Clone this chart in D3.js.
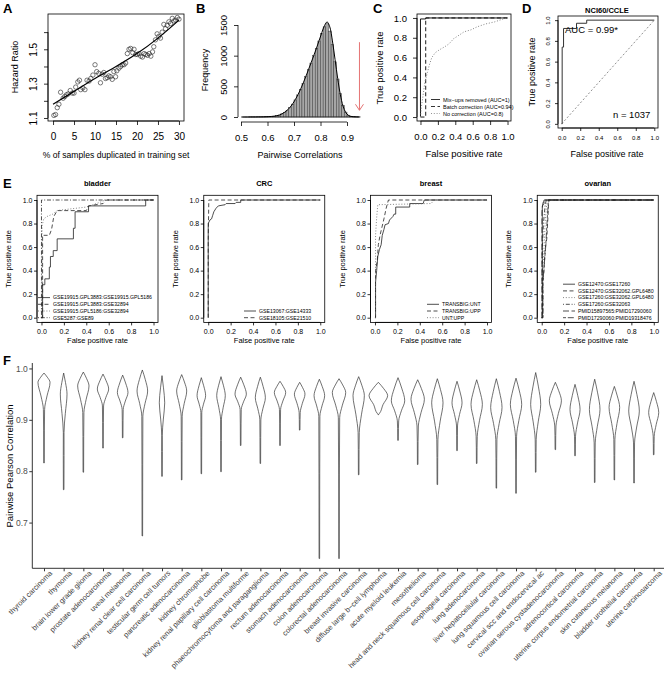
<!DOCTYPE html>
<html><head><meta charset="utf-8">
<script src="https://cdn.jsdelivr.net/npm/d3@7/dist/d3.min.js"></script>
<style>html,body{margin:0;padding:0;background:#fff}svg{display:block}</style>
</head><body>
<svg id="chart" width="667" height="677"></svg>
<script>
// ================= DATA =================
// Panel A
const dupPercent = [0.2,0.6,1.0,1.4,1.8,2.4,2.8,3.2,3.6,4.1,4.6,5.0,5.4,5.9,6.3,6.6,7.1,7.6,8.1,8.6,9.0,9.5,10.0,10.4,10.9,11.3,11.7,12.1,12.5,12.9,13.3,13.7,14.1,14.5,14.9,15.2,15.7,16.1,16.5,16.9,17.3,17.7,18.1,18.5,19.0,19.3,19.7,20.1,20.5,20.9,21.3,21.7,22.1,22.5,22.9,23.3,23.7,24.0,24.4,24.8,25.2,25.6,26.0,26.4,26.8,27.2,27.6,28.0,28.4,28.8,29.2,29.6,30.0];
const hazardRatio = [1.115,1.12,1.16,1.18,1.25,1.215,1.225,1.235,1.24,1.26,1.245,1.245,1.28,1.31,1.32,1.265,1.275,1.265,1.32,1.315,1.33,1.35,1.41,1.37,1.36,1.305,1.355,1.365,1.33,1.335,1.345,1.34,1.325,1.37,1.34,1.375,1.39,1.40,1.41,1.41,1.42,1.475,1.50,1.505,1.48,1.50,1.47,1.47,1.475,1.46,1.455,1.475,1.47,1.465,1.475,1.46,1.485,1.515,1.555,1.59,1.575,1.565,1.60,1.645,1.62,1.64,1.66,1.65,1.68,1.665,1.67,1.685,1.675];
const fitX = [0,5,10,15,20,25,30];
const fitHR = [1.18,1.255,1.33,1.40,1.475,1.565,1.67];
const aXTicks = [0,5,10,15,20,25,30];
const aYTicks = [1.1,1.2,1.3,1.4,1.5,1.6];
const aYLabelled = [1.1,1.3,1.5];

// Panel B
const corrBinStart = [0.50,0.51,0.52,0.53,0.54,0.55,0.56,0.57,0.58,0.59,0.60,0.61,0.62,0.63,0.64,0.65,0.66,0.67,0.68,0.69,0.70,0.71,0.72,0.73,0.74,0.75,0.76,0.77,0.78,0.79,0.80,0.81,0.82,0.83,0.84,0.85,0.86,0.87,0.88,0.89,0.90,0.91,0.92,0.93,0.94];
const corrFreq = [0,0,0,1,1,1,2,2,3,4,5,8,12,20,30,50,75,110,155,210,280,360,450,550,660,770,880,1000,1120,1240,1360,1470,1520,1400,1180,900,620,380,190,80,30,12,6,3,2];
const densityFreq = [0,0,0,1,1,1,2,2,3,4,6,9,14,21,33,52,78,112,158,214,284,364,454,556,664,776,890,1006,1124,1250,1375,1490,1550,1470,1240,935,625,362,180,75,28,10,4,2,1];
const bXTicks = [0.5,0.6,0.7,0.8,0.9];
const bYTicks = [0,500,1000,1500];
const arrowCorr = 0.947, arrowTop = 1220, arrowBottom = 110;

// Panel C
const cNames = ["Mix\u2212ups removed (AUC=1)","Batch correction (AUC=0.94)","No correction (AUC=0.8)"];
const cMixups = [[0,0],[0,0.99],[0.06,0.99],[0.06,1],[1,1]];
const cBatch = [[0,0],[0.06,0],[0.06,1],[1,1]];
const cNoCorr = [[0,0],[0.01,0.1],[0.03,0.22],[0.05,0.35],[0.08,0.45],[0.1,0.52],[0.13,0.6],[0.17,0.65],[0.22,0.68],[0.28,0.71],[0.33,0.74],[0.38,0.79],[0.45,0.83],[0.5,0.86],[0.58,0.88],[0.65,0.91],[0.75,0.94],[0.85,0.96],[0.95,0.99],[1,1]];
const rocTicks = [0,0.2,0.4,0.6,0.8,1];

// Panel D
const dRoc = [[0,0],[0.005,0],[0.005,0.74],[0.02,0.74],[0.02,0.92],[0.16,0.92],[0.16,0.97],[0.27,0.97],[0.27,1],[1,1]];
const dAUC = "AUC = 0.99*", dN = "n = 1037";

// Panel E
const eTitles = ["bladder","CRC","breast","ovarian"];
const bladderNames = ["GSE19915.GPL3883:GSE19915.GPL5186","GSE19915.GPL3883:GSE32894","GSE19915.GPL5186:GSE32894","GSE5287:GSE89"];
const bladderRoc = [
 [[0,0],[0.01,0],[0.01,0.28],[0.03,0.28],[0.03,0.33],[0.07,0.33],[0.07,0.43],[0.08,0.43],[0.08,0.52],[0.105,0.52],[0.105,0.57],[0.14,0.57],[0.14,0.67],[0.285,0.67],[0.285,0.76],[0.30,0.76],[0.30,0.90],[0.42,0.90],[0.42,0.95],[0.93,0.95],[0.93,1],[1,1]],
 [[0,0],[0.01,0],[0.01,0.70],[0.07,0.70],[0.09,0.75],[0.11,0.86],[0.14,0.91],[0.40,0.91],[0.42,0.95],[0.55,0.97],[0.58,1],[1,1]],
 [[0,0],[0.005,0],[0.005,0.78],[0.02,0.84],[0.05,0.86],[0.1,0.88],[0.14,0.91],[0.22,0.92],[0.40,0.94],[0.52,0.98],[0.57,1],[1,1]],
 [[0,0],[0,1],[1,1]]
];
const crcNames = ["GSE13067:GSE14333","GSE18105:GSE21510"];
const crcRoc = [
 [[0,0],[0,0.80],[0.015,0.83],[0.03,0.84],[0.04,0.87],[0.05,0.90],[0.07,0.93],[0.09,0.95],[0.15,0.96],[0.16,0.97],[0.24,0.97],[0.25,0.98],[0.29,0.98],[0.29,1],[1,1]],
 [[0,0],[0,0.65],[0.005,1],[1,1]]
];
const breastNames = ["TRANSBIG:UNT","TRANSBIG:UPP","UNT:UPP"];
const breastRoc = [
 [[0,0],[0.005,0],[0.005,0.30],[0.015,0.40],[0.025,0.52],[0.04,0.58],[0.055,0.62],[0.065,0.70],[0.08,0.75],[0.09,0.79],[0.12,0.80],[0.13,0.83],[0.16,0.86],[0.17,0.88],[0.185,0.88],[0.185,0.94],[0.31,0.94],[0.31,0.97],[0.43,0.97],[0.44,1],[1,1]],
 [[0,0],[0.005,0],[0.005,0.40],[0.02,0.48],[0.03,0.62],[0.045,0.70],[0.06,0.76],[0.08,0.84],[0.10,0.93],[0.12,1],[1,1]],
 [[0,0],[0.005,0],[0.005,0.70],[0.015,0.85],[0.025,0.96],[0.5,0.97],[0.53,1],[1,1]]
];
const ovarianNames = ["GSE12470:GSE17260","GSE12470:GSE32062.GPL6480","GSE17260:GSE32062.GPL6480","GSE17260:GSE32063","PMID15897565:PMID17290060","PMID17290060:PMID19318476"];
const ovarianRoc = [
 [[0,0],[0.005,0],[0.005,0.95],[0.02,0.97],[0.02,1],[1,1]],
 [[0,0],[0.01,0],[0.01,0.30],[0.02,0.40],[0.03,0.58],[0.045,0.67],[0.055,0.85],[0.06,0.95],[0.065,1],[1,1]],
 [[0,0],[0.01,0],[0.01,0.42],[0.02,0.58],[0.03,0.80],[0.04,0.92],[0.05,1],[1,1]],
 [[0,0],[0.005,0],[0.005,0.58],[0.015,0.80],[0.03,0.95],[0.04,1],[1,1]],
 [[0,0],[0.002,0],[0.002,0.90],[0.01,0.97],[0.02,1],[1,1]],
 [[0,0],[0.01,0],[0.01,0.29],[0.02,0.42],[0.035,0.6],[0.05,0.85],[0.06,1],[1,1]]
];

// Panel F
const cancerTypes = ["thyroid carcinoma","thymoma","brain lower grade glioma","prostate adenocarcinoma","uveal melanoma","kidney renal clear cell carcinoma","testicular germ cell tumors","pancreatic adenocarcinoma","kidney chromophobe","kidney renal papillary cell carcinoma","glioblastoma multiforme","phaeochromocytoma and paraganglioma","rectum adenocarcinoma","stomach adenocarcinoma","colon adenocarcinoma","colorectal adenocarcinoma","breast invasive carcinoma","diffuse large b\u2212cell lymphoma","acute myeloid leukemia","mesothelioma","head and neck squamous cell carcinoma","esophageal carcinoma","lung adenocarcinoma","liver hepatocellular carcinoma","lung squamous cell carcinoma","cervical scc and endocervical ac","ovarian serous cystadenocarcinoma","adrenocortical carcinoma","uterine corpus endometrial carcinoma","skin cutaneous melanoma","bladder urothelial carcinoma","uterine carcinosarcoma"];
const violinMax  = [0.991,0.991,0.993,0.989,0.987,0.997,0.986,0.988,0.982,0.984,0.983,0.983,0.975,0.973,0.979,0.980,0.984,0.973,0.982,0.978,0.980,0.975,0.978,0.980,0.981,0.992,0.973,0.969,0.979,0.965,0.975,0.953];
const violinMode = [0.973,0.950,0.966,0.960,0.953,0.956,0.933,0.956,0.947,0.947,0.950,0.943,0.953,0.950,0.947,0.953,0.947,0.947,0.937,0.940,0.933,0.933,0.930,0.924,0.930,0.930,0.937,0.920,0.920,0.924,0.917,0.914];
const violinWidth= [0.65,0.36,0.61,0.61,0.57,0.57,0.29,0.54,0.46,0.46,0.61,0.54,0.61,0.57,0.57,0.72,0.61,1.00,0.72,0.72,0.61,0.54,0.61,0.61,0.61,0.54,0.65,0.54,0.57,0.57,0.57,0.54];
const violinNeck = [0.920,0.875,0.914,0.927,0.920,0.907,0.870,0.907,0.914,0.900,0.920,0.900,0.920,0.914,0.907,0.904,0.875,0.912,0.898,0.888,0.862,0.888,0.868,0.862,0.868,0.862,0.888,0.868,0.855,0.862,0.855,0.868];
const violinMin  = [0.816,0.764,0.798,0.845,0.865,0.674,0.790,0.783,0.795,0.799,0.850,0.815,0.850,0.880,0.630,0.630,0.793,0.910,0.860,0.813,0.774,0.840,0.815,0.767,0.757,0.798,0.842,0.830,0.778,0.783,0.777,0.832];
const fYTicks = [0.7,0.8,0.9,1.0];

// ================= DRAWING =================
const FF = '"Liberation Sans", Arial, Helvetica, sans-serif';
const svg = d3.select("#chart").attr("font-family", FF);

function txt(x, y, s, size, o = {}) {
  const t = svg.append("text").attr("x", x).attr("y", y).attr("font-size", size)
    .attr("text-anchor", o.anchor || "middle").attr("fill", o.fill || "#000").text(s);
  if (o.bold) t.attr("font-weight", "bold");
  if (o.rotate) t.attr("transform", `rotate(${o.rotate},${x},${y})`);
  if (o.dy) t.attr("dy", o.dy);
  return t;
}
function box(x0, y0, x1, y1, sw = 0.8) {
  svg.append("rect").attr("x", x0).attr("y", y0).attr("width", x1 - x0).attr("height", y1 - y0)
    .attr("fill", "none").attr("stroke", "#000").attr("stroke-width", sw);
}
function axisBottom(scale, ticks, y, fs, fmt, tick, pad, labelled, lineCol = "#000") {
  const g = svg.append("g").attr("transform", `translate(0,${y})`)
    .call(d3.axisBottom(scale).tickValues(ticks).tickSize(tick).tickPadding(pad).tickFormat(fmt));
  g.select(".domain").remove();
  g.append("line").attr("x1", scale(ticks[0])).attr("x2", scale(ticks[ticks.length - 1]))
    .attr("stroke", lineCol).attr("stroke-width", 0.8);
  g.attr("font-size", fs).attr("font-family", FF);
  g.selectAll(".tick line").attr("stroke", lineCol).attr("stroke-width", 0.8);
  g.selectAll(".tick text").attr("fill", "#000");
  if (labelled) g.selectAll(".tick text").filter(d => !labelled.includes(d)).remove();
  return g;
}
function axisLeft(scale, ticks, x, fs, fmt, tick, pad, rotated, labelled, lineCol = "#000") {
  const g = svg.append("g").attr("transform", `translate(${x},0)`)
    .call(d3.axisLeft(scale).tickValues(ticks).tickSize(tick).tickPadding(pad).tickFormat(fmt));
  g.select(".domain").remove();
  g.append("line").attr("y1", scale(ticks[0])).attr("y2", scale(ticks[ticks.length - 1]))
    .attr("stroke", lineCol).attr("stroke-width", 0.8);
  g.attr("font-size", fs).attr("font-family", FF);
  g.selectAll(".tick line").attr("stroke", lineCol).attr("stroke-width", 0.8);
  g.selectAll(".tick text").attr("fill", "#000");
  if (rotated) {
    g.selectAll(".tick text").attr("x", 0).attr("y", -(tick + pad)).attr("dy", 0)
      .attr("text-anchor", "middle").attr("transform", "rotate(-90)");
  }
  if (labelled) g.selectAll(".tick text").filter(d => !labelled.includes(d)).remove();
  return g;
}
const f1 = d3.format(".1f");
const dashes = {solid: null, dashed: "4,2.5", dotted: "1,1.8", dotdash: "1,1.8,4,1.8", longdash: "6,2.5", twodash: "3,1.8,6,1.8"};

// panel letters
[["A",3,13],["B",196,13],["C",373,13],["D",522,13],["E",3,188],["F",3,365]].forEach(([l,x,y]) =>
  txt(x, y, l, 13, {bold: true, anchor: "start"}));

// ---------- Panel A ----------
{
  const x = d3.scaleLinear().domain([-1.2, 31.2]).range([48, 184]);
  const y = d3.scaleLinear().domain([1.0825, 1.7055]).range([121, 14]);
  box(48, 14, 184, 121);
  svg.append("g").selectAll("circle").data(dupPercent.map((d, i) => [d, hazardRatio[i]])).join("circle")
    .attr("cx", d => x(d[0])).attr("cy", d => y(d[1])).attr("r", 2.2)
    .attr("fill", "none").attr("stroke", "#222").attr("stroke-width", 0.6);
  svg.append("path").datum(fitX.map((d, i) => [d, fitHR[i]]))
    .attr("d", d3.line().x(d => x(d[0])).y(d => y(d[1])).curve(d3.curveNatural))
    .attr("fill", "none").attr("stroke", "#000").attr("stroke-width", 1.2);
  axisBottom(x, aXTicks, 121, 10, d3.format("d"), 4, 8);
  axisLeft(y, aYTicks, 48, 10, f1, 4, 7, true, aYLabelled);
  txt(116, 158, "% of samples duplicated in training set", 8.6);
  txt(18, 67, "Hazard Ratio", 9, {rotate: -90});
}

// ---------- Panel B ----------
{
  const x = d3.scaleLinear().domain([0.5, 0.9]).range([241, 347]);
  const y = d3.scaleLinear().domain([0, 1500]).range([117, 25]);
  svg.append("g").selectAll("rect").data(corrBinStart.map((d, i) => [d, corrFreq[i]])).join("rect")
    .attr("x", d => x(d[0])).attr("width", d => x(d[0] + 0.01) - x(d[0]))
    .attr("y", d => y(d[1])).attr("height", d => y(0) - y(d[1]))
    .attr("fill", "#a6a6a6").attr("stroke", "#333").attr("stroke-width", 0.45);
  svg.append("line").attr("x1", x(0.5)).attr("x2", x(0.95)).attr("y1", y(0)).attr("y2", y(0))
    .attr("stroke", "#222").attr("stroke-width", 0.8);
  svg.append("path").datum(corrBinStart.map((d, i) => [d + 0.005, densityFreq[i]]))
    .attr("d", d3.line().x(d => x(d[0])).y(d => y(d[1])).curve(d3.curveCatmullRom))
    .attr("fill", "none").attr("stroke", "#000").attr("stroke-width", 1);
  axisBottom(x, bXTicks, 122, 9.5, f1, 4, 8);
  axisLeft(y, bYTicks, 238, 9.5, d3.format("d"), 4, 7, true);
  txt(300, 158, "Pairwise Correlations", 9);
  txt(208, 70, "Frequency", 9, {rotate: -90});
  const ax = x(arrowCorr);
  const red = "#e57373";
  svg.append("line").attr("x1", ax).attr("x2", ax).attr("y1", y(arrowTop)).attr("y2", y(arrowBottom))
    .attr("stroke", red).attr("stroke-width", 1);
  svg.append("path").attr("d", `M${ax - 4},${y(arrowBottom) - 6}L${ax},${y(arrowBottom)}L${ax + 4},${y(arrowBottom) - 6}`)
    .attr("fill", "none").attr("stroke", red).attr("stroke-width", 1);
}

// ---------- Panel C ----------
{
  const x = d3.scaleLinear().domain([-0.04, 1.04]).range([417, 511]);
  const y = d3.scaleLinear().domain([-0.04, 1.04]).range([121, 14]);
  box(417, 14, 511, 121);
  const line = d3.line().x(d => x(d[0])).y(d => y(d[1]));
  const series = [[cMixups, "solid", "#000"], [cBatch, "dashed", "#000"], [cNoCorr, "dotted", "#777"]];
  series.forEach(([data, st, col]) => svg.append("path").datum(data).attr("d", line)
    .attr("fill", "none").attr("stroke", col).attr("stroke-width", 0.9).attr("stroke-dasharray", dashes[st]));
  axisBottom(x, rocTicks, 121, 9.5, f1, 4, 8);
  axisLeft(y, rocTicks, 417, 9.5, f1, 4, 6, false);
  txt(464, 157, "False positive rate", 9.5);
  txt(383, 68, "True positive rate", 9.5, {rotate: -90});
  cNames.forEach((n, i) => {
    const yy = 99.5 + i * 7;
    svg.append("line").attr("x1", 431).attr("x2", 440).attr("y1", yy).attr("y2", yy)
      .attr("stroke", series[i][2]).attr("stroke-width", 0.8).attr("stroke-dasharray", dashes[series[i][1]]);
    txt(443, yy + 2, n, 5.5, {anchor: "start"});
  });
}

// ---------- Panel D ----------
{
  const x = d3.scaleLinear().domain([-0.04, 1.04]).range([558, 658]);
  const y = d3.scaleLinear().domain([-0.04, 1.04]).range([128, 16]);
  box(558, 16, 658, 128);
  svg.append("line").attr("x1", x(0)).attr("y1", y(0)).attr("x2", x(1)).attr("y2", y(1))
    .attr("stroke", "#444").attr("stroke-width", 0.6).attr("stroke-dasharray", "2,2");
  svg.append("path").datum(dRoc).attr("d", d3.line().x(d => x(d[0])).y(d => y(d[1])))
    .attr("fill", "none").attr("stroke", "#333").attr("stroke-width", 1);
  axisBottom(x, rocTicks, 128, 6, f1, 3, 5);
  axisLeft(y, rocTicks, 558, 6, f1, 3, 5, true);
  txt(607, 157, "False positive rate", 9);
  txt(535, 72, "True positive rate", 9, {rotate: -90});
  txt(607, 13, "NCI60/CCLE", 7.5, {bold: true});
  txt(565, 33, dAUC, 9.5, {anchor: "start"});
  txt(613, 118, dN, 9.5, {anchor: "start"});
}

// ---------- Panel E ----------
{
  const sets = [
    [bladderNames, bladderRoc, ["solid","dashed","dotted","dotdash"]],
    [crcNames, crcRoc, ["solid","dashed"]],
    [breastNames, breastRoc, ["solid","dashed","dotted"]],
    [ovarianNames, ovarianRoc, ["solid","dashed","dotted","dotdash","longdash","twodash"]]
  ];
  const legendX = [38, 244, 427, 563];
  sets.forEach(([names, rocs, styles], i) => {
    const left = 37 + i * 166.75, right = left + 121;
    const x = d3.scaleLinear().domain([-0.04, 1.04]).range([left, right]);
    const y = d3.scaleLinear().domain([-0.04, 1.04]).range([322.4, 195.3]);
    box(left, 195.3, right, 322.4);
    const line = d3.line().x(d => x(d[0])).y(d => y(d[1]));
    rocs.forEach((r, k) => svg.append("path").datum(r).attr("d", line).attr("fill", "none")
      .attr("stroke", styles[k] === "dotted" ? "#666" : "#222").attr("stroke-width", 0.8)
      .attr("stroke-dasharray", dashes[styles[k]]));
    axisBottom(x, rocTicks, 322.4, 7, f1, 3, 3.5);
    axisLeft(y, rocTicks, left, 7, f1, 3, 1.5, false);
    txt((left + right) / 2, 343, "False positive rate", 7.5);
    txt(left - 26, 259, "True positive rate", 7.5, {rotate: -90});
    txt((left + right) / 2, 186, eTitles[i], 7.5, {bold: true});
    const n = names.length;
    names.forEach((nm, k) => {
      const yy = 317.7 - (n - 1 - k) * 6.7;
      const lx = legendX[i];
      svg.append("line").attr("x1", lx).attr("x2", lx + 12).attr("y1", yy).attr("y2", yy)
        .attr("stroke", styles[k] === "dotted" ? "#666" : "#222").attr("stroke-width", 0.8)
        .attr("stroke-dasharray", dashes[styles[k]]);
      txt(lx + 15, yy + 1.8, nm, 5.2, {anchor: "start"});
    });
  });
}

// ---------- Panel F ----------
{
  const x = d3.scalePoint().domain(cancerTypes).range([44, 653.7]);
  const y = d3.scaleLinear().domain([0.611, 1.01]).range([568.3, 363.3]);
  const w = d3.scaleLinear().domain([0, 1]).range([0, 9.3]);
  svg.append("line").attr("x1", 32.3).attr("x2", 32.3).attr("y1", 363).attr("y2", 568.3).attr("stroke", "#000").attr("stroke-width", 0.8);
  svg.append("line").attr("x1", 32.3).attr("x2", 664).attr("y1", 568.3).attr("y2", 568.3).attr("stroke", "#000").attr("stroke-width", 0.8);
  const gy = svg.append("g").attr("transform", "translate(32.3,0)")
    .call(d3.axisLeft(y).tickValues(fYTicks).tickSize(3).tickPadding(1.5).tickFormat(f1));
  gy.select(".domain").remove();
  gy.attr("font-size", 8.5).attr("font-family", FF);
  gy.selectAll(".tick line").attr("stroke", "#333");
  gy.selectAll(".tick text").attr("fill", "#4d4d4d");
  const gx = svg.append("g").attr("transform", "translate(0,568.3)").attr("opacity", 0.99)
    .call(d3.axisBottom(x).tickSize(3).tickPadding(2));
  gx.select(".domain").remove();
  gx.attr("font-size", 7.4).attr("font-family", FF);
  gx.selectAll(".tick line").attr("stroke", "#333");
  gx.selectAll(".tick text").attr("fill", "#3a3a3a").attr("text-anchor", "end")
    .attr("x", 2).attr("y", 6).attr("dy", "0.5em").attr("transform", "rotate(-45)");
  txt(13, 466, "Pairwise Pearson Correlation", 9.5, {rotate: -90});
  const area = d3.area().y(d => y(d[0])).x0(d => -w(d[1])).x1(d => w(d[1])).curve(d3.curveMonotoneY);
  cancerTypes.forEach((c, i) => {
    const mx = violinMax[i], md = violinMode[i], hw = violinWidth[i], nk = violinNeck[i], mn = violinMin[i];
    const prof = [[mx, 0], [md + (mx - md) * 0.55, hw * 0.55], [md, hw], [md - (md - nk) * 0.5, hw * 0.5],
      [nk, hw * 0.1], [nk - (nk - mn) * 0.4, 0.04], [mn, 0.03]];
    svg.append("path").datum(prof).attr("transform", `translate(${x(c)},0)`).attr("d", area)
      .attr("fill", "#fff").attr("stroke", "#333").attr("stroke-width", 0.7);
  });
}
</script>
</body></html>
